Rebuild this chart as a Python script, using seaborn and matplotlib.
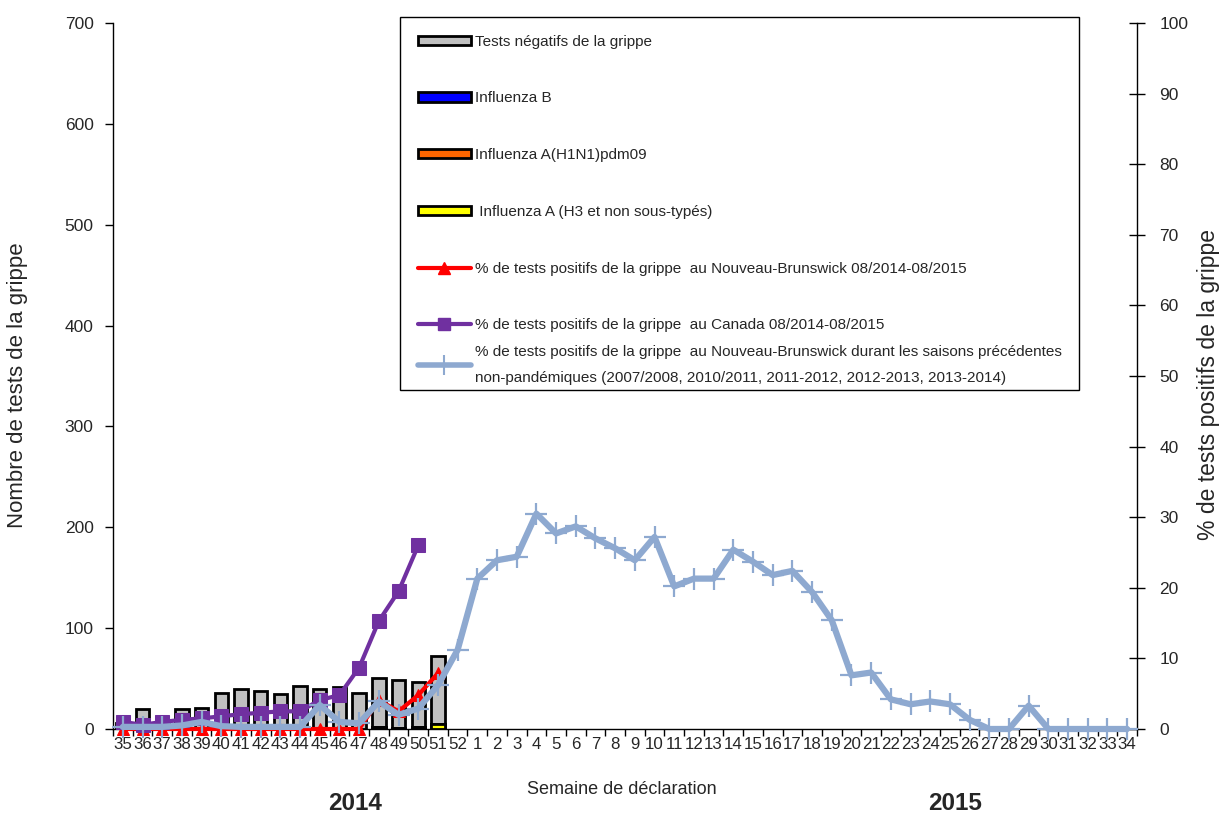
import numpy as np
import pandas as pd
import matplotlib
matplotlib.use("Agg")
import matplotlib.pyplot as plt
from matplotlib.patches import Patch, Rectangle
from matplotlib.lines import Line2D
import seaborn as sns

# ---------------- data ----------------
weeks = [str(w) for w in list(range(35, 53)) + list(range(1, 35))]

tests_negatifs = [6, 20, 6, 20, 21, 36, 40, 38, 35, 43, 40, 42, 36, 49, 48, 45, 67] + [np.nan] * 35
influenza_b = [0] * 17 + [np.nan] * 35
influenza_h1n1 = [0] * 17 + [np.nan] * 35
influenza_a_h3 = [0] * 13 + [2, 1, 2, 5] + [np.nan] * 35

pct_nb = [0, 0, 0, 0, 0, 0, 0, 0, 0, 0, 0, 0, 0, 4.1, 2.5, 4.8, 7.9] + [np.nan] * 35
pct_canada = [1.0, 0.6, 1.0, 1.3, 1.5, 1.8, 2.1, 2.3, 2.5, 2.5, 4.1, 4.8, 8.7,
              15.3, 19.5, 26.0] + [np.nan] * 36
pct_hist = [0.3, 0.3, 0.3, 0.5, 1.0, 0.4, 0.3, 0.3, 0.3, 0.3, 3.4, 1.0, 0.8, 3.9,
            2.0, 2.9, 6.2, 11.2,
            21.3, 23.9, 24.4, 30.5, 27.7, 28.7, 27.0, 25.6, 23.9, 27.2, 20.2, 21.3,
            21.3, 25.4, 23.7, 21.8, 22.4, 19.4, 15.4, 7.6, 8.0, 4.2, 3.5, 3.9, 3.5,
            1.3, 0, 0, 3.3, 0, 0, 0, 0, 0]

labels = [
    "Tests négatifs de la grippe",
    "Influenza B",
    "Influenza A(H1N1)pdm09",
    " Influenza A (H3 et non sous-typés)",
    "% de tests positifs de la grippe  au Nouveau-Brunswick 08/2014-08/2015",
    "% de tests positifs de la grippe  au Canada 08/2014-08/2015",
    "% de tests positifs de la grippe  au Nouveau-Brunswick durant les saisons précédentes\n"
    "non-pandémiques (2007/2008, 2010/2011, 2011-2012, 2012-2013, 2013-2014)",
]

# ---------------- style ----------------
sns.set_style("ticks")
REG = ["Liberation Sans", "DejaVu Sans"]
plt.rcParams["font.family"] = REG

C_GRAY = "#C0C0C0"
C_BLUE = "#0000FF"
C_ORANGE = "#FF6600"
C_YELLOW = "#FFFF00"
C_RED = "#FF0000"
C_PURPLE = "#7030A0"
C_HIST = "#8EA9D0"

df = pd.DataFrame({
    "week": weeks,
    "x": np.arange(len(weeks)),
    "neg": tests_negatifs,
    "b": influenza_b,
    "h1": influenza_h1n1,
    "h3": influenza_a_h3,
    "nb": pct_nb,
    "ca": pct_canada,
    "hist": pct_hist,
})
df["pos"] = df["b"] + df["h1"] + df["h3"]
df["total"] = df["neg"] + df["pos"]
df["h3h1"] = df["h3"] + df["h1"]

W, H = 1221, 816
fig = plt.figure(figsize=(W / 100, H / 100), dpi=100)
ax = fig.add_axes([113 / W, 1 - 729 / H, (1137 - 113) / W, (729 - 23) / H])

bar_kw = dict(width=0.68, edgecolor="black", linewidth=2.0, ax=ax, order=weeks, saturation=1)
sns.barplot(data=df, x="week", y="total", color=C_GRAY, **bar_kw)
sns.barplot(data=df, x="week", y="pos", color=C_BLUE, **bar_kw)
sns.barplot(data=df, x="week", y="h3h1", color=C_ORANGE, **bar_kw)
sns.barplot(data=df, x="week", y="h3", color=C_YELLOW, **bar_kw)
for p in ax.patches:
    if not np.isfinite(p.get_height()) or p.get_height() <= 0:
        p.set_visible(False)

ax.set_xlim(-0.5, len(weeks) - 0.5)
ax.set_ylim(0, 700)
ax.set_yticks(range(0, 701, 100))
ax.set_xlabel("")
ax.set_ylabel("")
ax.set_xticks(np.arange(len(weeks)))
ax.set_xticklabels(weeks, fontsize=12.2)
ax.set_xticks(np.arange(len(weeks) + 1) - 0.5, minor=True)
ax.tick_params(axis="x", which="major", length=0, pad=6)
ax.tick_params(axis="x", which="minor", length=5, width=1, direction="out", color="black")
ax.tick_params(axis="y", length=6, width=1, direction="out", labelsize=12.5, pad=8, color="black")
for s in ["left", "bottom"]:
    ax.spines[s].set_color("black")
    ax.spines[s].set_linewidth(1)
ax.spines["top"].set_visible(False)
ax.spines["right"].set_visible(False)

ax2 = ax.twinx()
ax2.set_ylim(0, 100)
ax2.set_yticks(range(0, 101, 10))
sns.lineplot(data=df, x="x", y="nb", ax=ax2, color=C_RED, linewidth=3, marker="^",
             markersize=9, markeredgecolor=C_RED, clip_on=False, zorder=3)
sns.lineplot(data=df, x="x", y="ca", ax=ax2, color=C_PURPLE, linewidth=3, marker="s",
             markersize=10, markeredgecolor=C_PURPLE, clip_on=False, zorder=4)
sns.lineplot(data=df, x="x", y="hist", ax=ax2, color=C_HIST, linewidth=4.5, marker="+",
             markersize=16, markeredgewidth=1.6, markeredgecolor=C_HIST, clip_on=False, zorder=5)
ax2.set_xlim(-0.5, len(weeks) - 0.5)
ax2.set_xlabel("")
ax2.set_ylabel("")
ax2.tick_params(axis="y", length=12, width=1, direction="inout", labelsize=12.5, pad=10, color="black")
ax2.spines["top"].set_visible(False)
ax2.spines["left"].set_visible(False)
ax2.spines["bottom"].set_visible(False)
ax2.spines["right"].set_color("black")
ax2.spines["right"].set_linewidth(1)

# ---------------- legend ----------------
handles = [
    Patch(facecolor=C_GRAY, edgecolor="black", linewidth=2),
    Patch(facecolor=C_BLUE, edgecolor="black", linewidth=2),
    Patch(facecolor=C_ORANGE, edgecolor="black", linewidth=2),
    Patch(facecolor=C_YELLOW, edgecolor="black", linewidth=2),
    Line2D([], [], color=C_RED, linewidth=3, marker="^", markersize=9),
    Line2D([], [], color=C_PURPLE, linewidth=3, marker="s", markersize=9),
    Line2D([], [], color=C_HIST, linewidth=4, marker="+", markersize=14, markeredgewidth=1.5),
]
LFS = 11
leg_common = dict(prop={"size": LFS}, frameon=False, handlelength=3.5, handleheight=0.55,
                  handletextpad=0.25, numpoints=1, borderaxespad=0,
                  bbox_transform=fig.transFigure, loc="upper left")
legA = ax2.legend(handles[:6], labels[:6], bbox_to_anchor=(400 / W, 1 - 17 / H),
                  borderpad=1.15, labelspacing=2.8, **leg_common)
ax2.add_artist(legA)
pad_px = 1.15 * LFS * 100 / 72
legB = ax2.legend(handles[6:], labels[6:], bbox_to_anchor=((400 + pad_px) / W, 1 - 345 / H),
                  borderpad=0, labelspacing=0, **leg_common)
for t in legB.get_texts():
    t.set_linespacing(2.05)

fig.canvas.draw()
r = fig.canvas.get_renderer()
right_px = max(legA.get_window_extent(r).x1, legB.get_window_extent(r).x1 + pad_px)
frame = Rectangle((400 / W, 1 - 390 / H), (right_px - 400) / W, (390 - 17) / H,
                  transform=fig.transFigure, facecolor="none", edgecolor="black",
                  linewidth=1, zorder=5)
fig.add_artist(frame)

# ---------------- axis labels and year labels ----------------
fig.text(18 / W, 1 - 385 / H, "Nombre de tests de la grippe", rotation=90,
         ha="center", va="center", fontsize=16)
fig.text(1209 / W, 1 - 385 / H, "% de tests positifs de la grippe", rotation=90,
         ha="center", va="center", fontsize=16.5)
fig.text(622 / W, 1 - 789 / H, "Semaine de déclaration", ha="center", va="center",
         fontsize=13)
fig.text(355 / W, 1 - 804 / H, "2014", ha="center", va="center",
         fontsize=17.5, fontweight="bold")
fig.text(955 / W, 1 - 804 / H, "2015", ha="center", va="center",
         fontsize=17.5, fontweight="bold")

fig.savefig("out.png", dpi=100)
